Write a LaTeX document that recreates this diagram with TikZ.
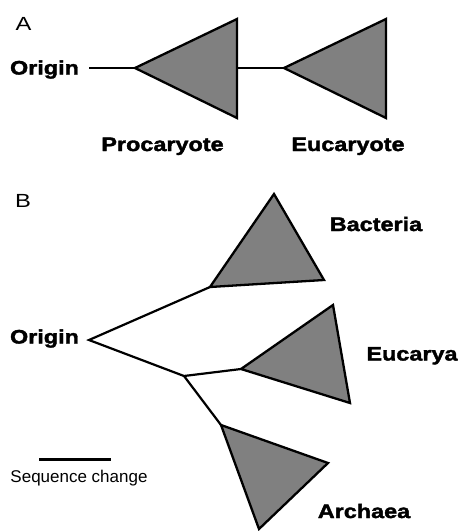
\documentclass[tikz,border=0pt]{standalone}
\usepackage{fontspec}
\setmainfont{Liberation Sans}
\newfontfamily\heavyfont[FakeStretch=1.2,FakeBold=2]{Liberation Sans}
\newfontfamily\widefont[FakeStretch=1.25]{Liberation Sans}
\begin{document}
\begin{tikzpicture}[x=1pt,y=-1pt,
  tri/.style={draw=black,line width=2.3pt,fill={rgb,255:red,128;green,128;blue,128},line join=miter},
  branch/.style={draw=black,line width=2.2pt,line join=miter},
  lab/.style={inner sep=0pt,anchor=base,font=\heavyfont\bfseries\fontsize{19.5}{21}\selectfont},
  plain/.style={inner sep=0pt,anchor=base,font=\fontsize{17}{19}\selectfont},
  panel/.style={inner sep=0pt,anchor=base,font=\widefont\fontsize{19}{21}\selectfont}]
\useasboundingbox (0,0) rectangle (460,531);
% Panel A
\node[panel] (pa) at (23.5,30) {A};
\node[lab] (oa) at (44.5,74.5) {Origin};
\coordinate (oaend) at (89,68);
\coordinate (p1) at (135,68);
\coordinate (p2) at (237,19);
\coordinate (p3) at (237,118);
\coordinate (p4) at (237,68);
\coordinate (e1) at (284,68);
\coordinate (e2) at (386,19);
\coordinate (e3) at (386,118);
\draw[branch] (oaend) -- (p1);
\draw[branch] (p4) -- (e1);
\path[tri] (p1) -- (p2) -- (p3) -- cycle;
\path[tri] (e1) -- (e2) -- (e3) -- cycle;
\node[lab] (proc) at (162.5,151) {Procaryote};
\node[lab] (euc) at (348,151) {Eucaryote};
% Panel B
\node[panel] (pb) at (23,207) {B};
\node[lab] (ob) at (44.5,343.5) {Origin};
\coordinate (o) at (89,340);
\coordinate (b1) at (210,287);
\coordinate (b2) at (274,194);
\coordinate (b3) at (324,280);
\coordinate (n) at (184,376);
\coordinate (k1) at (241,369);
\coordinate (k2) at (333,305);
\coordinate (k3) at (350,403);
\coordinate (a1) at (221,425);
\coordinate (a2) at (328,463);
\coordinate (a3) at (259,529);
\draw[branch] (b1) -- (o) -- (n) -- (k1);
\draw[branch] (n) -- (a1);
\path[tri] (b1) -- (b2) -- (b3) -- cycle;
\path[tri] (k1) -- (k2) -- (k3) -- cycle;
\path[tri] (a1) -- (a2) -- (a3) -- cycle;
\node[lab] (bac) at (376,231) {Bacteria};
\node[lab] (eucb) at (412,360.5) {Eucarya};
\node[lab] (arc) at (364,518) {Archaea};
% scale bar
\coordinate (s1) at (39,459);
\coordinate (s2) at (111,459);
\draw[line width=3pt] (s1) -- (s2);
\node[plain] (seq) at (79,482.5) {Sequence change};
\end{tikzpicture}
\end{document}
